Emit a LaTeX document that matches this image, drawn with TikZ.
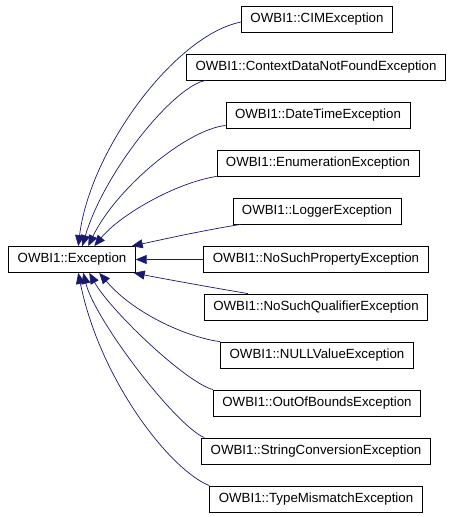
\documentclass[tikz,border=0pt]{standalone}
\usepackage{fontspec}
\setmainfont{Liberation Sans}
\usetikzlibrary{arrows.meta}
\definecolor{edgeblue}{HTML}{191970}
\begin{document}
\begin{tikzpicture}[x=1pt,y=-1pt,
  cls/.style={draw=black,line width=0.8pt,fill=white,inner xsep=9pt,inner ysep=0pt,minimum height=26pt,
    font=\fontsize{13.3}{16}\selectfont,anchor=center},
  inh/.style={draw=edgeblue,line width=0.7pt,-{Triangle[length=11pt,width=9pt]},edgeblue}]
\useasboundingbox[fill=white] (0,0) rectangle (456,517);
\node[cls] (exc) at (72,259.5) {OWBI1::Exception};
\node[cls] (cim) at (317,19) {OWBI1::CIMException};
\node[cls] (ctx) at (316,67) {OWBI1::ContextDataNotFoundException};
\node[cls] (dt)  at (318,115) {OWBI1::DateTimeException};
\node[cls] (enu) at (318,163) {OWBI1::EnumerationException};
\node[cls] (log) at (317,211) {OWBI1::LoggerException};
\node[cls] (nsp) at (316,259.5) {OWBI1::NoSuchPropertyException};
\node[cls] (nsq) at (316,307) {OWBI1::NoSuchQualifierException};
\node[cls] (nul) at (317,355) {OWBI1::NULLValueException};
\node[cls] (oob) at (317,403) {OWBI1::OutOfBoundsException};
\node[cls] (sc)  at (316,451) {OWBI1::StringConversionException};
\node[cls] (tm)  at (316,499) {OWBI1::TypeMismatchException};

\draw[inh] ([yshift=-3pt]cim.west) .. controls (175,35) and (90,150) .. ([xshift=70pt]exc.north west);
\draw[inh] ([xshift=20pt]ctx.south west) .. controls (175,85) and (105,170) .. ([xshift=74pt]exc.north west);
\draw[inh] ([yshift=3pt]dt.south west) .. controls (185,130) and (115,190) .. ([xshift=80pt]exc.north west);
\draw[inh] (enu.south west) .. controls (175,183) and (120,215) .. ([xshift=86pt]exc.north west);
\draw[inh] ([xshift=8pt]log.south west) .. controls (200,231) and (160,240) .. ([xshift=-4pt]exc.north east);
\draw[inh] (nsp.west) -- (exc.east);
\draw[inh] ([xshift=44pt]nsq.north west) .. controls (215,288) and (170,280) .. ([xshift=-2pt]exc.south east);
\draw[inh] (nul.north west) .. controls (190,338) and (135,315) .. ([xshift=91pt]exc.south west);
\draw[inh] (oob.north west) .. controls (185,382) and (110,310) .. ([xshift=81pt]exc.south west);
\draw[inh] ([xshift=3pt]sc.north west) .. controls (175,425) and (95,320) .. ([xshift=75pt]exc.south west);
\draw[inh] (tm.north west) .. controls (170,470) and (100,380) .. ([xshift=70pt]exc.south west);
\end{tikzpicture}
\end{document}
